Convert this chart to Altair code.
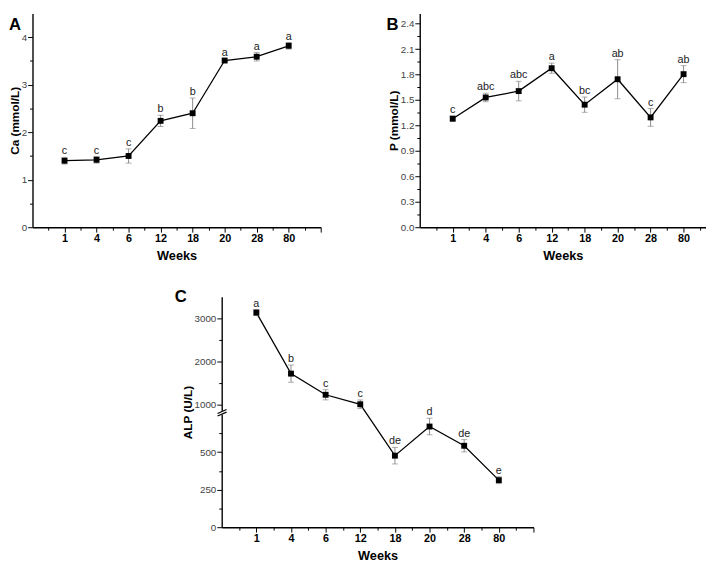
import altair as alt
import pandas as pd

# ---------------- data ----------------
weeks = ["1", "4", "6", "12", "18", "20", "28", "80"]

ca_mean = [1.40, 1.42, 1.50, 2.24, 2.40, 3.51, 3.59, 3.82]
ca_err = [0.07, 0.07, 0.15, 0.12, 0.32, 0.03, 0.09, 0.07]
ca_sig = ["c", "c", "c", "b", "b", "a", "a", "a"]

p_mean = [1.28, 1.53, 1.605, 1.875, 1.445, 1.745, 1.295, 1.805]
p_err = [0.03, 0.05, 0.115, 0.06, 0.09, 0.23, 0.105, 0.10]
p_sig = ["c", "abc", "abc", "a", "bc", "ab", "c", "ab"]

alp_mean = [3135, 1720, 1230, 1010, 476, 670, 542, 313]
alp_err = [70, 200, 118, 100, 55, 55, 41, 23]
alp_sig = ["a", "b", "c", "c", "de", "d", "de", "e"]

# broken axis for ALP: lower part 0..765, upper part 825..3500 compressed
brk_low = 765.0
brk_high = 825.0
brk_ratio = 0.2872
alp_major = [0, 250, 500, 1000, 2000, 3000]
alp_minor = [125, 375, 625, 1500, 2500]

# axis-break marker (two slashes and a gap) in x / transformed-y units
brk_x1 = [-0.12, -0.12]
brk_x2 = [0.14, 0.14]
brk_y1 = [757.0, 740.0]
brk_y2 = [783.0, 766.0]
gap_y = [749.0, 774.0]

FONT = "Liberation Sans"


def brk(v):
    if v <= brk_low:
        return v
    if v >= brk_high:
        return brk_low + (v - brk_high) * brk_ratio
    return brk_low


def make_df(mean, err, sig, f=lambda v: v):
    return pd.DataFrame({
        "pos": list(range(1, len(weeks) + 1)),
        "week": weeks,
        "yv": [f(m) for m in mean],
        "lo": [f(m - e) for m, e in zip(mean, err)],
        "hi": [f(m + e) for m, e in zip(mean, err)],
        "sig": sig,
    })


def x_axis(xmax):
    vals = [i * 0.5 for i in range(1, int(xmax * 2) + 1)]
    expr = "".join("datum.value === %d ? '%s' : " % (i + 1, w) for i, w in enumerate(weeks)) + "''"
    return alt.Axis(values=vals, labelExpr=expr, labelFontWeight="bold",
                    labelFontSize=11, labelColor="#000", labelPadding=1,
                    tickSize={"condition": {"test": "datum.value % 1 === 0", "value": 5}, "value": 3},
                    labelOverlap=False, labelBound=False, labelFlush=False, titlePadding=6,
                    titleFontSize=13)


def panel(df, xmax, ymax, width, height, ytitle, yaxis, letter, ldx, ldy, extra=None):
    base = alt.Chart(df)
    xs = alt.Scale(domain=[0, xmax], nice=False, zero=False)
    ys = alt.Scale(domain=[0, ymax], nice=False, zero=False)
    xa = x_axis(xmax)

    def X(f="pos:Q"):
        return alt.X(f, scale=xs, axis=xa, title="Weeks")

    def Y(f):
        return alt.Y(f, scale=ys, axis=yaxis, title=ytitle)

    line = base.mark_line(color="#000", strokeWidth=1.3).encode(x=X(), y=Y("yv:Q"))
    rule = base.mark_rule(color="#8a8a8a", strokeWidth=1).encode(x=X(), y=Y("lo:Q"), y2="hi:Q")
    cap_lo = base.mark_tick(orient="horizontal", size=6, thickness=1, color="#8a8a8a").encode(
        x=X(), y=Y("lo:Q"))
    cap_hi = base.mark_tick(orient="horizontal", size=6, thickness=1, color="#8a8a8a").encode(
        x=X(), y=Y("hi:Q"))
    pts = base.mark_square(size=36, color="#000", opacity=1, filled=True).encode(x=X(), y=Y("yv:Q"))
    sig = base.mark_text(baseline="bottom", dy=-1, fontSize=11, font=FONT, color="#222").encode(
        x=X(), y=Y("hi:Q"), text="sig:N")
    lab = alt.Chart(pd.DataFrame({"t": [letter]})).mark_text(
        align="left", baseline="top", fontSize=17, fontWeight="bold", font=FONT, color="#000"
    ).encode(x=alt.value(ldx), y=alt.value(ldy), text="t:N")
    layers = [line, rule, cap_lo, cap_hi, pts, sig, lab]
    if extra is not None:
        layers += extra(X, Y)
    return alt.layer(*layers).properties(width=width, height=height)


common_y = dict(labelFontSize=10, labelColor="#444", labelPadding=1, titlePadding=0,
                titleFontSize=12, labelOverlap=False, labelBound=False, labelFlush=False)

# Panel A
ya = alt.Axis(values=[i * 0.5 for i in range(0, 9)],
              labelExpr="datum.value % 1 === 0 ? format(datum.value, 'd') : ''",
              tickSize={"condition": {"test": "datum.value % 1 === 0", "value": 5}, "value": 3},
              **common_y)
chart_a = panel(make_df(ca_mean, ca_err, ca_sig), 9, 4.5, 294, 218, "Ca (mmol/L)", ya, "A", -24, 4)

# Panel B
yb = alt.Axis(values=[round(0.15 * i, 2) for i in range(0, 17)],
              labelExpr="round(datum.value * 100) % 30 === 0 ? format(datum.value, '.1f') : ''",
              tickSize={"condition": {"test": "round(datum.value * 100) % 30 === 0", "value": 5}, "value": 3},
              **common_y)
chart_b = panel(make_df(p_mean, p_err, p_sig), 8.68, 2.52, 292, 218, "P (mmol/L)", yb, "B", -34, 4)

# Panel C (broken axis)
major_t = [brk(v) for v in alp_major]
minor_t = [brk(v) for v in alp_minor]
lab_expr = "".join(
    "abs(datum.value - %f) < 0.5 ? '%d' : " % (t, v) for t, v in zip(major_t, alp_major)) + "''"
major_test = " || ".join("abs(datum.value - %f) < 0.5" % t for t in major_t)
yc = alt.Axis(values=sorted(major_t + minor_t), labelExpr=lab_expr,
              tickSize={"condition": {"test": major_test, "value": 5}, "value": 3},
              **common_y)
df_c = make_df(alp_mean, alp_err, alp_sig, brk)


def break_marks(X, Y):
    gap = alt.Chart(pd.DataFrame({"x": [0.0], "y1": [gap_y[0]], "y2": [gap_y[1]]})).mark_rule(
        color="white", strokeWidth=3).encode(x=X("x:Q"), y=Y("y1:Q"), y2="y2:Q")
    sl = pd.DataFrame({"x1": brk_x1, "x2": brk_x2, "y1": brk_y1, "y2": brk_y2})
    slashes = alt.Chart(sl).mark_rule(color="#000", strokeWidth=1.2).encode(
        x=X("x1:Q"), x2="x2:Q", y=Y("y1:Q"), y2="y2:Q")
    return [gap, slashes]


chart_c = panel(df_c, 9, brk(3500), 318, 235, "ALP (U/L)", yc, "C", -48, -8, extra=break_marks)

spacer = alt.Chart(pd.DataFrame({"a": [0]})).mark_point(opacity=0).encode(
    x=alt.value(0), y=alt.value(0)).properties(width=83, height=10)

top = alt.hconcat(chart_a, chart_b, spacing=66)
bottom = alt.hconcat(spacer, chart_c, spacing=62)
chart = alt.vconcat(top, bottom, spacing=26).properties(padding=0).configure_view(
    strokeWidth=0
).configure_axis(
    grid=False, domainColor="#000", domainWidth=1.4, tickColor="#000", tickWidth=1,
    labelFont=FONT, titleFont=FONT, titleFontWeight="bold", titleColor="#000",
    labelOverlap=False
)

chart.save("out.html", embed_options={"renderer": "svg", "actions": False})
